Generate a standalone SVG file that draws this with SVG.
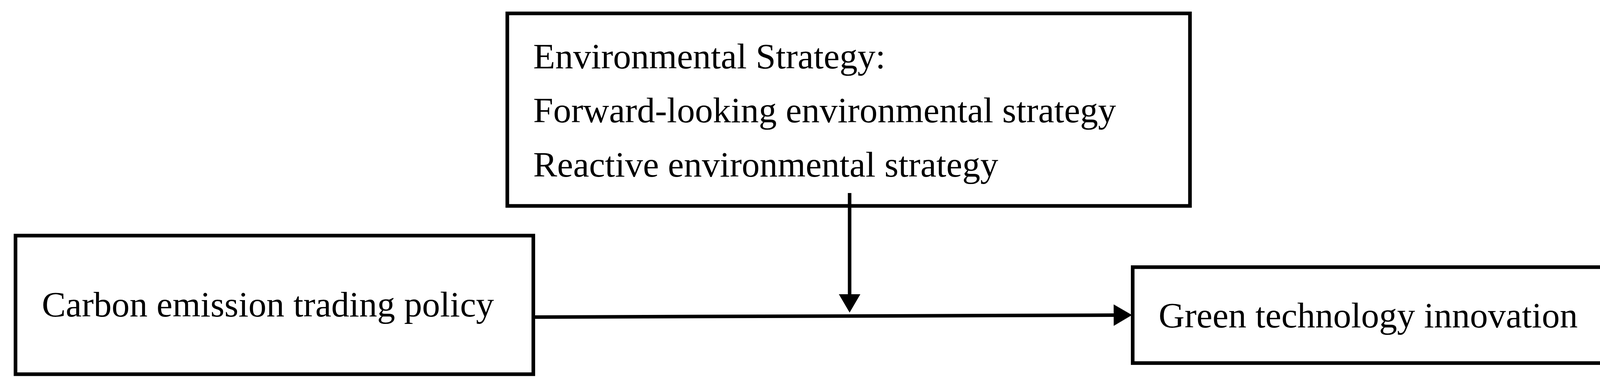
<svg xmlns="http://www.w3.org/2000/svg" width="4211" height="993" viewBox="0 0 4211 993">
  <style>
    .box { fill: #ffffff; stroke: #000000; stroke-width: 9.3; }
    .lbl { font-family: "Liberation Serif", "Times New Roman", serif; font-size: 92px; fill: #000000; }
    .conn { fill: none; stroke: #000000; stroke-width: 9; }
  </style>
  <defs>
    <marker id="arrow" markerUnits="userSpaceOnUse" markerWidth="48" markerHeight="56" refX="0" refY="27.5" orient="auto" overflow="visible">
      <path d="M0,0 L47,27.5 L0,55 Z" fill="#000000"/>
    </marker>
  </defs>
  <rect x="0" y="0" width="4211" height="993" fill="#ffffff"/>
  <g id="node-strategy">
    <rect class="box" x="1298.7" y="34.3" width="1747.6" height="492.7"/>
    <text class="lbl" x="1365" y="175">Environmental Strategy:</text>
    <text class="lbl" x="1365" y="313">Forward-looking environmental strategy</text>
    <text class="lbl" x="1365" y="452">Reactive environmental strategy</text>
  </g>
  <g id="node-carbon">
    <rect class="box" x="39.7" y="603" width="1325.6" height="354.7"/>
    <text class="lbl" x="107" y="810">Carbon emission trading policy</text>
  </g>
  <g id="node-green">
    <rect class="box" x="2899.7" y="683.7" width="1282.6" height="245.5"/>
    <text class="lbl" x="2966" y="838">Green technology innovation</text>
  </g>
  <g id="connectors">
    <line class="conn" x1="1370" y1="811.5" x2="2851" y2="806.5" marker-end="url(#arrow)"/>
    <line class="conn" x1="2175" y1="494" x2="2175" y2="753" marker-end="url(#arrow)"/>
  </g>
</svg>
